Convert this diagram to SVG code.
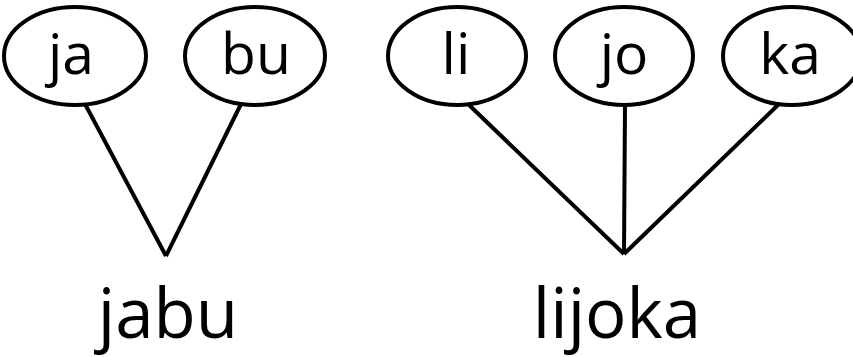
<svg xmlns="http://www.w3.org/2000/svg" width="853" height="357" viewBox="0 0 853 357">
<style>
.node ellipse{fill:#fff;stroke:#000;stroke-width:4}
.lbl{font-family:"Open Sans","Noto Sans",sans-serif;font-size:57px;fill:#000;text-anchor:middle}
.word{font-family:"Open Sans","Noto Sans",sans-serif;font-size:69px;fill:#000;text-anchor:middle}
.edges line{stroke:#000;stroke-width:4;stroke-linecap:butt}
</style>
<rect width="853" height="357" fill="#fff"/>
<g id="connectors" class="edges">
<line x1="85" y1="104" x2="166" y2="256"/>
<line x1="241" y1="104" x2="166" y2="256"/>
<line x1="468" y1="104" x2="624" y2="254"/>
<line x1="625" y1="104" x2="624" y2="254"/>
<line x1="779" y1="104" x2="624" y2="254"/>
</g>
<g id="node-ja" class="node"><ellipse cx="75" cy="56" rx="71" ry="49"/><text class="lbl" x="71" y="74">ja</text></g>
<g id="node-bu" class="node"><ellipse cx="255" cy="56" rx="70" ry="49"/><text class="lbl" x="256" y="74">bu</text></g>
<g id="node-li" class="node"><ellipse cx="457" cy="56" rx="69" ry="49"/><text class="lbl" x="456" y="74">li</text></g>
<g id="node-jo" class="node"><ellipse cx="624" cy="56" rx="69" ry="49"/><text class="lbl" x="624" y="74">jo</text></g>
<g id="node-ka" class="node"><ellipse cx="792" cy="56" rx="69" ry="49"/><text class="lbl" x="790" y="74">ka</text></g>
<g id="word-jabu"><text class="word" x="168" y="338">jabu</text></g>
<g id="word-lijoka"><text class="word" x="617" y="338">lijoka</text></g>
</svg>
